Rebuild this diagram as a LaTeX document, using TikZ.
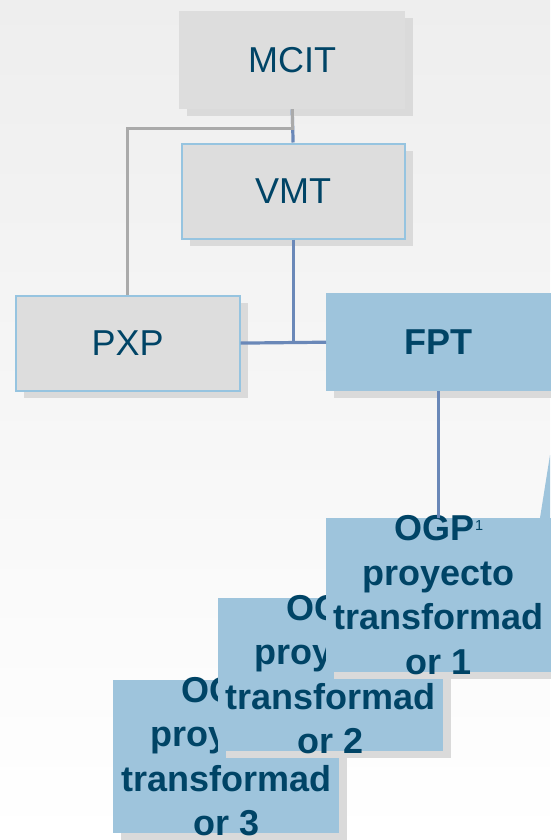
\documentclass[tikz,border=0pt]{standalone}
\usepackage{fontspec}
\setmainfont{Liberation Sans}
\usetikzlibrary{shadows}
\definecolor{txtc}{RGB}{0,68,102}
\definecolor{boxgray}{RGB}{221,221,221}
\definecolor{boxblue}{RGB}{158,196,220}
\definecolor{edgeblue}{RGB}{150,196,224}
\definecolor{linkblue}{RGB}{106,136,184}
\definecolor{linkgray}{RGB}{170,170,170}
\definecolor{shadowc}{RGB}{218,218,218}
\definecolor{bgtop}{RGB}{238,238,238}
\newcommand{\supone}{\kern1pt\raisebox{10.5pt}{\fontsize{14.5}{14.5}\selectfont\mdseries 1}}
\begin{document}
\begin{tikzpicture}[x=1pt,y=-1pt,
  boxshadow/.style={drop shadow={shadow xshift=8pt,shadow yshift=-7pt,fill=shadowc,opacity=1}},
  basebox/.style={anchor=north west, inner sep=0pt, boxshadow, text=txtc,
    font=\fontsize{36}{40}\selectfont},
  graybox/.style={basebox, fill=boxgray},
  edgedbox/.style={basebox, fill=boxgray, draw=edgeblue, line width=2.2pt},
  bluebox/.style={basebox, fill=boxblue, font=\bfseries\fontsize{36}{40}\selectfont},
  ogptext/.style={inner sep=0pt, align=center, text=txtc,
    font=\bfseries\fontsize{36}{44.5}\selectfont},
  link/.style={draw=linkblue, line width=3.2pt},
  glink/.style={draw=linkgray, line width=3.2pt}]
\useasboundingbox (0,0) rectangle (550,840);
\shade[top color=bgtop, bottom color=white] (0,0) rectangle (550,840);

% top boxes
\node[graybox, minimum width=226pt, minimum height=98pt] (mcit) at (179,11) {MCIT};
\node[edgedbox, minimum width=223pt, minimum height=95pt] (vmt) at (180.5,142.5) {VMT};
\node[edgedbox, minimum width=224pt, minimum height=95pt] (pxp) at (14.5,294.5) {PXP};
\node[bluebox, minimum width=225pt, minimum height=98pt] (fpt) at (326,293) {FPT};

% connectors
\draw[link] (mcit.south) -- (vmt.north);
\draw[glink] (mcit.south) -- ++(0,19) -| (pxp.north);
\draw[link] (vmt.south) -- (vmt.south |- pxp.east);
\draw[link] (pxp.east) -- (fpt.west);

% right edge wedge
\fill[boxblue] (550,455) -- (540,518) -- (550,518) -- cycle;

% OGP boxes, back to front
\node[basebox, fill=boxblue, minimum width=226pt, minimum height=153pt] (ogp3) at (113,680) {};
\node[ogptext] (ogp3t) at (ogp3.center) {OGP\supone\\proyecto\\transformad\\or 3};
\node[basebox, fill=boxblue, minimum width=225pt, minimum height=153pt] (ogp2) at (218,598) {};
\node[ogptext] (ogp2t) at (ogp2.center) {OGP\supone\\proyecto\\transformad\\or 2};
\node[basebox, fill=boxblue, minimum width=225pt, minimum height=154pt] (ogp1) at (326,518) {};
\node[ogptext] (ogp1t) at (ogp1.center) {OGP\supone\\proyecto\\transformad\\or 1};

\draw[link] (fpt.south) -- (ogp1.north);
\end{tikzpicture}
\end{document}
